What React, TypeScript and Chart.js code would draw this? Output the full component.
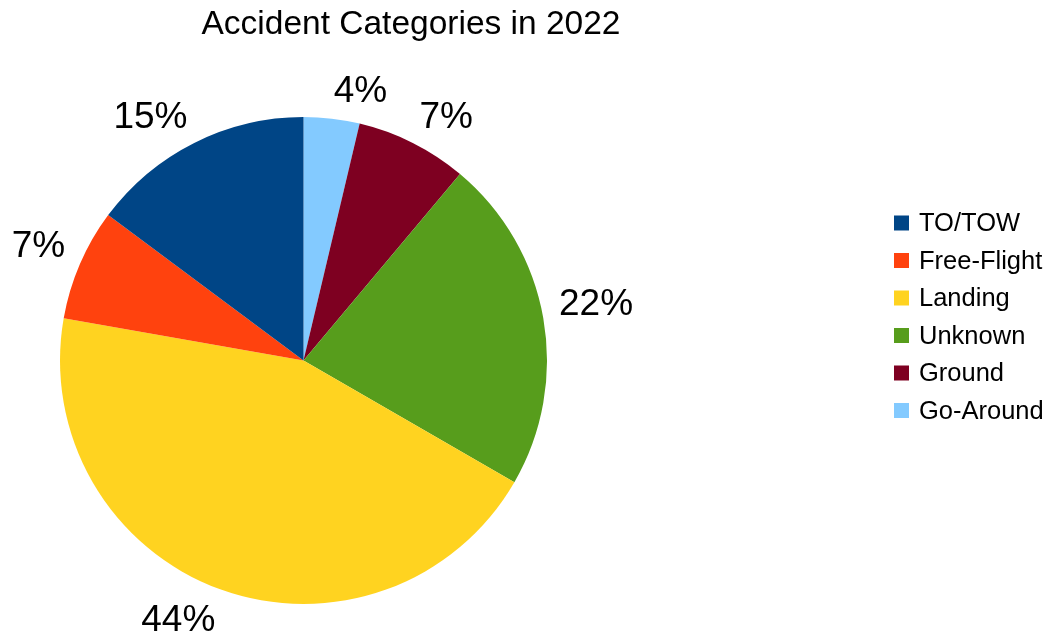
import { useEffect, useRef } from 'react';
import { Chart, registerables } from 'chart.js';

Chart.register(...registerables);

const TITLE = 'Accident Categories in 2022';
const categories = ['TO/TOW', 'Free-Flight', 'Landing', 'Unknown', 'Ground', 'Go-Around'];
const accidents = [4, 2, 12, 6, 2, 1];
const colors = ['#004586', '#ff420e', '#ffd320', '#579d1c', '#7e0021', '#83caff'];

const FONT = '"Liberation Sans", Arial, sans-serif';
const W = 1054;
const H = 638;

// Slices run counter-clockwise from 12 o'clock in category order;
// Chart.js sweeps clockwise, so the dataset is fed in reverse.
const sliceLabels = [...categories].reverse();
const sliceValues = [...accidents].reverse();
const sliceColors = [...colors].reverse();
const total = accidents.reduce((a, b) => a + b, 0);

const titlePlugin = {
  id: 'centeredTitle',
  afterDraw(chart: any) {
    const ctx = chart.ctx;
    ctx.save();
    ctx.font = `33.5px ${FONT}`;
    ctx.fillStyle = '#000';
    ctx.textAlign = 'center';
    ctx.textBaseline = 'alphabetic';
    ctx.fillText(TITLE, 411, 34);
    ctx.restore();
  },
};

const percentLabels = {
  id: 'percentLabels',
  afterDatasetsDraw(chart: any) {
    const ctx = chart.ctx;
    const meta = chart.getDatasetMeta(0);
    ctx.save();
    ctx.font = `37px ${FONT}`;
    ctx.fillStyle = '#000';
    ctx.textAlign = 'left';
    ctx.textBaseline = 'alphabetic';
    meta.data.forEach((arc: any, i: number) => {
      const { x, y, startAngle, endAngle, outerRadius } = arc.getProps(
        ['x', 'y', 'startAngle', 'endAngle', 'outerRadius'],
        true
      );
      const mid = (startAngle + endAngle) / 2;
      const dx = Math.cos(mid);
      const dy = Math.sin(mid);
      const d = outerRadius + 17;
      const ax = x + dx * d;
      const ay = y + dy * d;
      const text = `${Math.round((sliceValues[i] / total) * 100)}%`;
      const m = ctx.measureText(text);
      const w = m.actualBoundingBoxLeft + m.actualBoundingBoxRight;
      const h = m.actualBoundingBoxAscent;
      // the text corner nearest the pie sits on the slice's mid ray
      const left = dx >= 0 ? ax : ax - w;
      const top = dy >= 0 ? ay : ay - h;
      ctx.fillText(text, left + m.actualBoundingBoxLeft, top + m.actualBoundingBoxAscent);
    });
    ctx.restore();
  },
};

const sideLegend = {
  id: 'sideLegend',
  afterDraw(chart: any) {
    const ctx = chart.ctx;
    ctx.save();
    ctx.font = `25.5px ${FONT}`;
    ctx.textAlign = 'left';
    ctx.textBaseline = 'middle';
    const x0 = 894;
    const y0 = 223;
    const step = 37.5;
    const box = 15;
    categories.forEach((name, i) => {
      const cy = y0 + i * step;
      ctx.fillStyle = colors[i];
      ctx.fillRect(x0, cy - box / 2, box, box);
      ctx.fillStyle = '#000';
      ctx.fillText(name, x0 + 25, cy + 1);
    });
    ctx.restore();
  },
};

export default function App() {
  const canvasRef = useRef<HTMLCanvasElement | null>(null);

  useEffect(() => {
    document.body.style.margin = '0';
    const canvas = canvasRef.current;
    if (!canvas) return;
    const chart = new Chart(canvas, {
      type: 'pie',
      data: {
        labels: sliceLabels,
        datasets: [
          {
            data: sliceValues,
            backgroundColor: sliceColors,
            borderWidth: 0,
          },
        ],
      },
      options: {
        responsive: false,
        animation: false,
        layout: { padding: { left: 60, right: 507, top: 117, bottom: 34 } },
        plugins: {
          legend: { display: false },
          title: { display: false },
          tooltip: { enabled: false },
        },
      },
      plugins: [percentLabels, sideLegend, titlePlugin],
    });
    return () => chart.destroy();
  }, []);

  return (
    <div style={{ position: 'fixed', left: 0, top: 0, width: W, height: H, background: '#fff' }}>
      <canvas ref={canvasRef} width={W} height={H} style={{ display: 'block' }} />
    </div>
  );
}
